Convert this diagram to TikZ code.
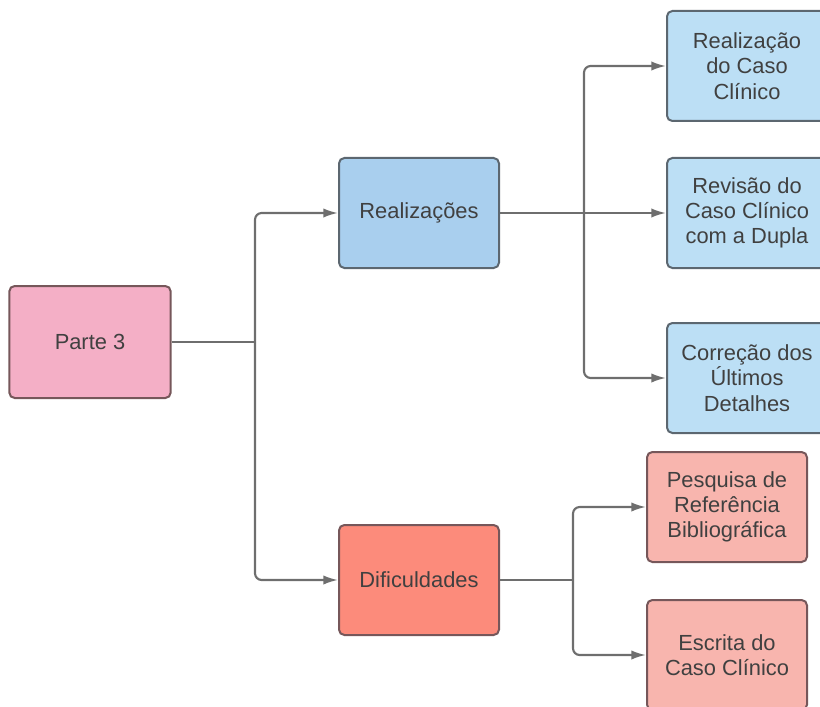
\documentclass[tikz,border=0pt]{standalone}
\usepackage{fontspec}
\setmainfont{Liberation Sans}
\usetikzlibrary{arrows.meta}
\definecolor{rosa}{HTML}{F4AFC6}
\definecolor{azulforte}{HTML}{A9CFEE}
\definecolor{azulclaro}{HTML}{BCDFF5}
\definecolor{salmao}{HTML}{FC8B7B}
\definecolor{salmaoclaro}{HTML}{F8B5AE}
\definecolor{linha}{HTML}{6E6E6E}
\definecolor{bordaazul}{HTML}{5C6770}
\definecolor{bordarosa}{HTML}{76575A}
\tikzset{caixa/.style={draw=bordaazul,line width=1.5pt,rounded corners=4pt,minimum width=120pt,minimum height=82.5pt,align=center,font=\fontsize{16.4}{19}\selectfont,text=black!75},
  caixarosa/.style={caixa,draw=bordarosa},
  liga/.style={draw=linha,line width=1.6pt},
  seta/.style={liga,rounded corners=5pt,-{Latex[length=11pt,width=7pt]}}}

\begin{document}
\begin{tikzpicture}[x=0.75pt,y=-0.75pt]
        \useasboundingbox (0,0) rectangle (820,706);
        \clip (0,0) rectangle (820,706);
        \node[caixarosa,fill=rosa,minimum width=121pt,minimum height=84pt] (parte) at (90,342) {Parte 3};
        \node[caixa,fill=azulforte] (realiz) at (419,213) {Realizações};
        \node[caixarosa,fill=salmao] (difi) at (419,580) {Dificuldades};
        \node[caixa,fill=azulclaro] (caso) at (747,66) {Realização\\do Caso\\Clínico};
        \node[caixa,fill=azulclaro] (revisao) at (747,213) {Revisão do\\Caso Clínico\\com a Dupla};
        \node[caixa,fill=azulclaro] (correcao) at (747,378) {Correção dos\\Últimos\\Detalhes};
        \node[caixarosa,fill=salmaoclaro] (pesquisa) at (727,507) {Pesquisa de\\Referência\\Bibliográfica};
        \node[caixarosa,fill=salmaoclaro] (escrita) at (727,655) {Escrita do\\Caso Clínico};
        \coordinate (jA) at (255,342);
        \coordinate (jB) at (584,213);
        \coordinate (jC) at (573,580);
        \draw[liga] (parte.east) -- (jA);
        \draw[seta] (jA) |- (realiz.west);
        \draw[seta] (jA) |- (difi.west);
        \draw[liga] (realiz.east) -- (jB);
        \draw[seta] (jB) |- (caso.west);
        \draw[seta] (jB) -- (revisao.west);
        \draw[seta] (jB) |- (correcao.west);
        \draw[liga] (difi.east) -- (jC);
        \draw[seta] (jC) |- (pesquisa.west);
        \draw[seta] (jC) |- (escrita.west);
    \end{tikzpicture}
\end{document}
